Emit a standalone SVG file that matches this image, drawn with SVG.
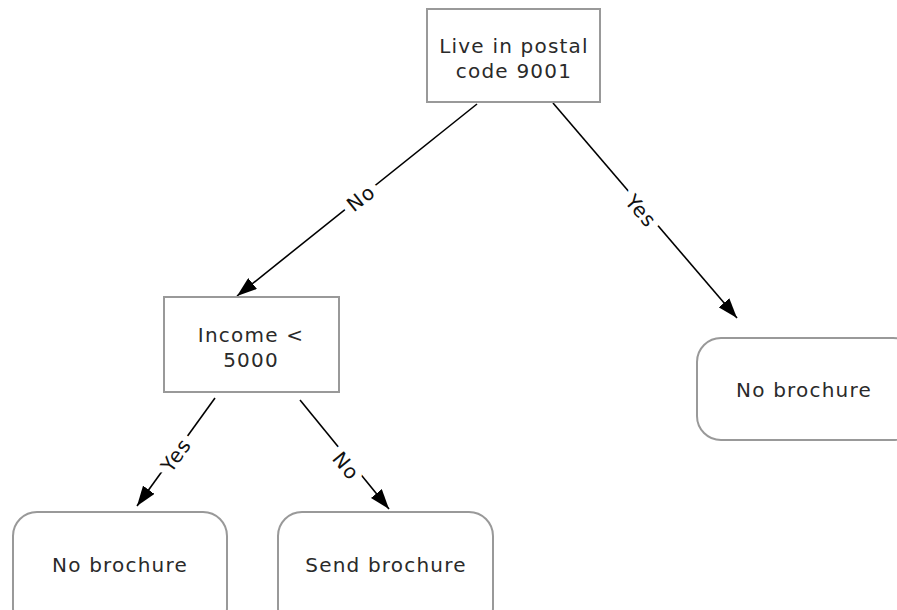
<svg xmlns="http://www.w3.org/2000/svg" width="897" height="610" viewBox="0 0 897 610">
  <style>
    .box { fill: #fff; stroke: #999; stroke-width: 2; }
    .lbl { font-family: "DejaVu Sans", Verdana, sans-serif; font-size: 20px; letter-spacing: 1.2px; fill: #2a2a2a; text-anchor: middle; }
    .edge { stroke: #000; stroke-width: 1.6; fill: none; marker-end: url(#arrow); }
    .elbl { font-family: "DejaVu Sans", Verdana, sans-serif; font-size: 20px; letter-spacing: 1.2px; fill: #111; text-anchor: middle; dominant-baseline: central; stroke: #fff; stroke-width: 14; paint-order: stroke; }
  </style>
  <defs>
    <marker id="arrow" viewBox="0 0 20 14" refX="20" refY="7" markerWidth="20" markerHeight="14" markerUnits="userSpaceOnUse" orient="auto">
      <path d="M0,0 L20,7 L0,14 Z" fill="#000"/>
    </marker>
  </defs>

  <g id="connectors">
    <line class="edge" x1="477" y1="104" x2="237" y2="296"/>
    <line class="edge" x1="553" y1="103" x2="737" y2="318"/>
    <line class="edge" x1="215" y1="398" x2="137" y2="506"/>
    <line class="edge" x1="300" y1="400" x2="389" y2="509"/>
    <text class="elbl" transform="translate(361,198) rotate(-38.5)">No</text>
    <text class="elbl" transform="translate(641,211) rotate(49.6)">Yes</text>
    <text class="elbl" transform="translate(176,455) rotate(-54.3)">Yes</text>
    <text class="elbl" transform="translate(346,466) rotate(50.5)">No</text>
  </g>

  <g id="postal">
    <rect class="box" x="427" y="9" width="173" height="93"/>
    <text class="lbl" x="514" y="53">Live in postal</text>
    <text class="lbl" x="514" y="78">code 9001</text>
  </g>

  <g id="income">
    <rect class="box" x="164" y="297" width="175" height="95"/>
    <text class="lbl" x="251" y="342">Income &lt;</text>
    <text class="lbl" x="251" y="367">5000</text>
  </g>

  <g id="no-brochure-right">
    <rect class="box" x="697" y="338" width="220" height="102" rx="24"/>
    <text class="lbl" x="804" y="397">No brochure</text>
  </g>

  <g id="no-brochure-left">
    <rect class="box" x="13" y="512" width="214" height="120" rx="24"/>
    <text class="lbl" x="120" y="572">No brochure</text>
  </g>

  <g id="send-brochure">
    <rect class="box" x="278" y="512" width="215" height="120" rx="24"/>
    <text class="lbl" x="386" y="572">Send brochure</text>
  </g>
</svg>
